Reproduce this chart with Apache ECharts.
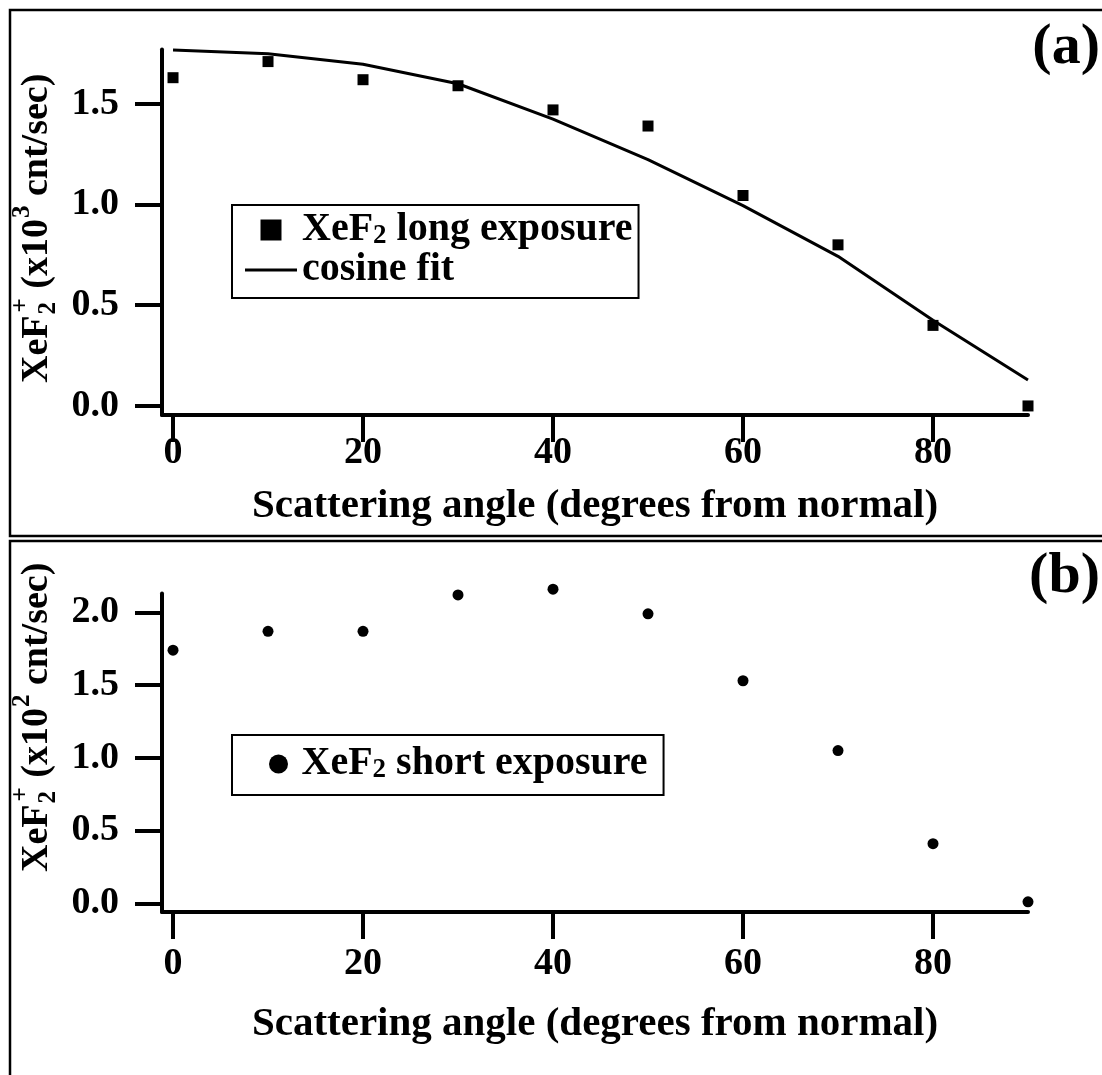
<!DOCTYPE html>
<html>
<head>
<meta charset="utf-8">
<script src="https://cdn.jsdelivr.net/npm/echarts@6/dist/echarts.min.js"></script>
<style>
  html, body { margin: 0; padding: 0; background: #fff; }
  #chart { width: 1102px; height: 1075px; }
</style>
</head>
<body>
<div id="chart"></div>
<script>
// Scattering angle of each measurement (degrees from normal)
const angles = [0, 10, 20, 30, 40, 50, 60, 70, 80, 90];
// (a) XeF2+ signal after long exposure, x10^3 cnt/sec
const longExposure = [1.63, 1.71, 1.62, 1.59, 1.47, 1.39, 1.045, 0.80, 0.40, 0.0];
// (a) cosine fit curve, sampled at the same angles
const fitAngles = [0, 10, 20, 30, 40, 50, 60, 70, 80, 90];
const cosineFit = [1.767, 1.749, 1.697, 1.60, 1.424, 1.223, 0.995, 0.743, 0.426, 0.129];
// (b) XeF2+ signal after short exposure, x10^2 cnt/sec
const shortExposure = [1.74, 1.87, 1.87, 2.12, 2.16, 1.99, 1.53, 1.05, 0.41, 0.01];
// tick values
const xTicks = [0, 20, 40, 60, 80];
const yTicksA = [0, 0.5, 1.0, 1.5];
const yTicksB = [0, 0.5, 1.0, 1.5, 2.0];

const FONT = '"Liberation Serif", "Times New Roman", serif';
const BLACK = '#000';

const zip = (xs, ys) => xs.map((x, i) => [x, ys[i]]);

function xAxisFor(gridIndex, labelMargin, nameGap) {
  return {
    type: 'value', gridIndex, min: -1.16, max: 90,
    axisLine: { show: true, onZero: false, lineStyle: { color: BLACK, width: 4 } },
    axisTick: { show: true, inside: false, length: 27, customValues: xTicks,
                lineStyle: { color: BLACK, width: 4 } },
    axisLabel: { customValues: xTicks, margin: labelMargin, color: BLACK, fontSize: 38,
                 fontWeight: 'bold', fontFamily: FONT, formatter: v => String(v) },
    splitLine: { show: false },
    name: 'Scattering angle (degrees from normal)',
    nameLocation: 'middle', nameGap,
    nameTextStyle: { color: BLACK, fontSize: 41, fontWeight: 'bold', fontFamily: FONT,
                     verticalAlign: 'middle' }
  };
}

function yAxisFor(gridIndex, min, max, ticks) {
  return {
    type: 'value', gridIndex, min, max,
    axisLine: { show: true, onZero: false, lineStyle: { color: BLACK, width: 4 } },
    axisTick: { show: true, inside: false, length: 27, customValues: ticks,
                lineStyle: { color: BLACK, width: 4 } },
    axisLabel: { customValues: ticks, margin: 43, color: BLACK, fontSize: 38,
                 fontWeight: 'bold', fontFamily: FONT, formatter: v => v.toFixed(1) },
    splitLine: { show: false }
  };
}

// vertical axis title with stacked subscript / superscript
const measureCtx = document.createElement('canvas').getContext('2d');
function textWidth(t, size) {
  measureCtx.font = 'bold ' + size + 'px ' + FONT;
  return measureCtx.measureText(t).width;
}
function piece(t, size, x, y) {
  return {
    type: 'text', x, y,
    style: { text: t, fontSize: size, fontWeight: 'bold', fontFamily: FONT, fill: BLACK,
             align: 'left', verticalAlign: 'middle', textAlign: 'left', textVerticalAlign: 'middle' }
  };
}
function yTitle(cx, bottom, exponent) {
  const big = 38, small = 25;
  const kids = [];
  let x = 0;
  kids.push(piece('XeF', big, x, 0)); x += textWidth('XeF', big);
  kids.push(piece('2', small, x + 1, 12));
  kids.push(piece('+', small, x + 3, -15));
  x += Math.max(textWidth('2', small) + 1, textWidth('+', small) + 3);
  kids.push(piece(' (x10', big, x, 0)); x += textWidth(' (x10', big);
  kids.push(piece(exponent, small, x + 1, -14)); x += textWidth(exponent, small) + 1;
  kids.push(piece(' cnt/sec)', big, x, 0));
  return { type: 'group', x: cx, y: bottom, rotation: Math.PI / 2, children: kids };
}

function legendLabel(name) {
  if (name.indexOf('XeF2') === 0) return '{n|XeF}{s|2}{n|' + name.slice(4) + '}';
  return '{n|' + name + '}';
}
const legendText = {
  color: BLACK,
  rich: {
    n: { fontSize: 40, fontWeight: 'bold', fontFamily: FONT, lineHeight: 40, color: BLACK },
    s: { fontSize: 27, fontWeight: 'bold', fontFamily: FONT, lineHeight: 10,
         verticalAlign: 'bottom', color: BLACK }
  }
};
// legend glyphs: square, short rule, round dot
const ICON_SQUARE = 'path://M0,0H10V10H0Z';
const ICON_RULE = 'path://M0,0H52V3H0Z';
const ICON_DOT = 'path://M10,0A10,10,0,1,1,10,20A10,10,0,1,1,10,0Z';

const chart = echarts.init(document.getElementById('chart'), null, { renderer: 'canvas' });
chart.setOption({
  animation: false,
  backgroundColor: '#fff',
  grid: [
    { left: 162, top: 49.5, width: 866, height: 365.5 },
    { left: 162, top: 593.5, width: 866, height: 318.5 }
  ],
  xAxis: [xAxisFor(0, 19, 91), xAxisFor(1, 33, 112)],
  yAxis: [yAxisFor(0, -0.045, 1.77, yTicksA), yAxisFor(1, -0.06, 2.13, yTicksB)],
  legend: [
    {
      orient: 'vertical', left: 232, top: 205, itemWidth: 52, itemHeight: 21, itemGap: 0,
      padding: [5, 6, 8, 13], borderColor: BLACK, borderWidth: 2, selectedMode: false,
      symbolKeepAspect: true,
      data: [{ name: 'XeF2 long exposure', icon: ICON_SQUARE },
             { name: 'cosine fit', icon: ICON_RULE }],
      formatter: legendLabel, textStyle: legendText
    },
    {
      orient: 'vertical', left: 232, top: 735, itemWidth: 36, itemHeight: 19, itemGap: 0,
      padding: [9, 16, 11, 37], borderColor: BLACK, borderWidth: 2, selectedMode: false,
      symbolKeepAspect: true,
      data: [{ name: 'XeF2 short exposure', icon: ICON_DOT }],
      formatter: legendLabel, textStyle: legendText
    }
  ],
  series: [
    {
      name: 'XeF2 long exposure', type: 'scatter', xAxisIndex: 0, yAxisIndex: 0,
      symbol: 'rect', symbolSize: 11, itemStyle: { color: BLACK, opacity: 1 }, clip: false,
      data: zip(angles, longExposure)
    },
    {
      name: 'cosine fit', type: 'line', xAxisIndex: 0, yAxisIndex: 0,
      symbol: 'none', lineStyle: { color: BLACK, width: 3 }, itemStyle: { color: BLACK },
      clip: false, data: zip(fitAngles, cosineFit)
    },
    {
      name: 'XeF2 short exposure', type: 'scatter', xAxisIndex: 1, yAxisIndex: 1,
      symbol: 'circle', symbolSize: 11, itemStyle: { color: BLACK, opacity: 1 }, clip: false,
      data: zip(angles, shortExposure)
    }
  ],
  graphic: [
    // panel frames
    { type: 'rect', shape: { x: 10, y: 10, width: 1120, height: 526 },
      style: { fill: 'none', stroke: BLACK, lineWidth: 2.5 }, silent: true },
    { type: 'rect', shape: { x: 10, y: 541, width: 1120, height: 600 },
      style: { fill: 'none', stroke: BLACK, lineWidth: 2.5 }, silent: true },
    // panel tags
    { type: 'text', x: 1100, y: 48,
      style: { text: '(a)', fontSize: 58, fontWeight: 'bold', fontFamily: FONT, fill: BLACK,
               align: 'right', verticalAlign: 'middle', textAlign: 'right', textVerticalAlign: 'middle' } },
    { type: 'text', x: 1100, y: 577,
      style: { text: '(b)', fontSize: 58, fontWeight: 'bold', fontFamily: FONT, fill: BLACK,
               align: 'right', verticalAlign: 'middle', textAlign: 'right', textVerticalAlign: 'middle' } },
    yTitle(37, 383, '3'),
    yTitle(37, 872, '2')
  ]
});
</script>
</body>
</html>
